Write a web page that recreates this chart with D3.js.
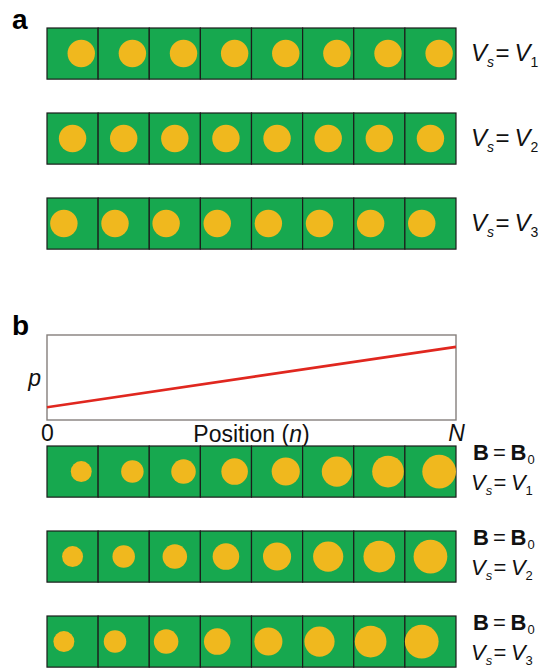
<!DOCTYPE html>
<html>
<head>
<meta charset="utf-8">
<script src="https://cdn.jsdelivr.net/npm/d3@7"></script>
<style>
  body { margin: 0; background: #fff; }
  svg { display: block; font-family: 'Liberation Sans', Arial, sans-serif; }
</style>
</head>
<body>
<div id="chart"></div>
<script>
// cells along the chain, n = 0 .. N
const cells = [0, 1, 2, 3, 4, 5, 6, 7];
// panel a: particle offset inside its cell (fraction of a cell), one per row
const rowVelocity = ['1', '2', '3'];
const rowShift = [0.17, 0, -0.17];
// particle diameter / cell width
const sizeA = [0.536, 0.536, 0.536, 0.536, 0.536, 0.536, 0.536, 0.536];
const sizeB = [0.41, 0.44, 0.48, 0.52, 0.55, 0.59, 0.62, 0.66];
// p along the chain (relative)
const pLine = [{ n: 0, p: 0.15 }, { n: 1, p: 0.86 }];
const xTicks = [0, 1];
const xTickLabels = ['0', 'N'];

const W = 544, H = 671;
const left = 47, right = 456;
const green = '#17a84f', yellow = '#f0b81e', red = '#e0271f';

const svg = d3.select('#chart').append('svg')
  .attr('width', W).attr('height', H);

const x = d3.scaleBand().domain(cells).range([left, right]);
const bw = x.bandwidth();

function drawRow(top, sizes, shift) {
  const g = svg.append('g').attr('transform', 'translate(0,' + top + ')');
  g.selectAll('rect').data(cells).enter().append('rect')
    .attr('x', d => x(d)).attr('y', 0)
    .attr('width', bw).attr('height', bw)
    .attr('fill', green)
    .attr('stroke', '#1c1c1c').attr('stroke-width', 1.2);
  g.selectAll('circle').data(cells).enter().append('circle')
    .attr('cx', d => x(d) + bw / 2 + shift * bw)
    .attr('cy', bw / 2)
    .attr('r', d => sizes[d] * bw / 2)
    .attr('fill', yellow);
  return g;
}

// Vs = Vk label, pieces placed by hand
function vsLabel(x0, y, k, fs, sub) {
  const s = fs / 24;
  const t = svg.append('text').attr('y', y).attr('font-size', fs).attr('fill', '#111');
  t.append('tspan').attr('x', x0).attr('font-style', 'italic').text('V');
  t.append('tspan').attr('x', x0 + 0.67 * fs).attr('y', y + 5.5 * s)
    .attr('font-style', 'italic').attr('font-size', sub).text('s');
  t.append('tspan').attr('x', x0 + 24.5 * s).attr('y', y).text('=');
  t.append('tspan').attr('x', x0 + 43.5 * s).attr('font-style', 'italic').text('V');
  t.append('tspan').attr('x', x0 + 43.5 * s + 0.67 * fs).attr('y', y + 5.5 * s)
    .attr('font-size', sub).text(k);
}

function bLabel(x0, y, fs, sub) {
  const s = fs / 22;
  const t = svg.append('text').attr('y', y).attr('font-size', fs).attr('fill', '#111');
  t.append('tspan').attr('x', x0).attr('font-weight', 'bold').text('B');
  t.append('tspan').attr('x', x0 + 20 * s).text('=');
  t.append('tspan').attr('x', x0 + 37.5 * s).attr('font-weight', 'bold').text('B');
  t.append('tspan').attr('x', x0 + 54.5 * s).attr('y', y + 4 * s)
    .attr('font-size', sub).text('0');
}

// ---- panel a
svg.append('text').attr('x', 12).attr('y', 29)
  .attr('font-size', 28).attr('font-weight', 'bold').text('a');

rowVelocity.forEach((k, i) => {
  const top = 28 + i * 85;
  drawRow(top, sizeA, rowShift[i]);
  vsLabel(471, top + 33, k, 24, 14);
});

// ---- panel b
svg.append('text').attr('x', 12).attr('y', 335)
  .attr('font-size', 28).attr('font-weight', 'bold').text('b');

const px = d3.scaleLinear().domain([0, 1]).range([left, right]);
const py = d3.scaleLinear().domain([0, 1]).range([420, 335]);

svg.append('rect')
  .attr('x', px(0)).attr('y', py(1))
  .attr('width', px(1) - px(0)).attr('height', py(0) - py(1))
  .attr('fill', 'none').attr('stroke', '#857f7c').attr('stroke-width', 1.4);

svg.append('path').datum(pLine)
  .attr('d', d3.line().x(d => px(d.n)).y(d => py(d.p)))
  .attr('fill', 'none').attr('stroke', red).attr('stroke-width', 2.7);

const xAxis = d3.axisBottom(px).tickValues(xTicks)
  .tickFormat((d, i) => xTickLabels[i]).tickSize(0).tickPadding(5);
const ax = svg.append('g').attr('transform', 'translate(0,420)').call(xAxis);
ax.select('.domain').remove();
ax.selectAll('text')
  .attr('font-family', "'Liberation Sans', Arial, sans-serif")
  .attr('font-size', 23).attr('fill', '#111')
  .attr('font-style', (d, i) => i === 1 ? 'italic' : 'normal');

const xl = svg.append('text').attr('x', (left + right) / 2).attr('y', 441.5)
  .attr('text-anchor', 'middle').attr('font-size', 23).attr('fill', '#111');
xl.append('tspan').text('Position (');
xl.append('tspan').attr('font-style', 'italic').text('n');
xl.append('tspan').text(')');

svg.append('text').attr('x', 41).attr('y', 386).attr('text-anchor', 'end')
  .attr('font-size', 23).attr('font-style', 'italic').attr('fill', '#111').text('p');

rowVelocity.forEach((k, i) => {
  const top = 446 + i * 85;
  drawRow(top, sizeB, rowShift[i]);
  bLabel(473, top + 14, 22, 13);
  vsLabel(471, top + 44, k, 22, 13);
});
</script>
</body>
</html>
